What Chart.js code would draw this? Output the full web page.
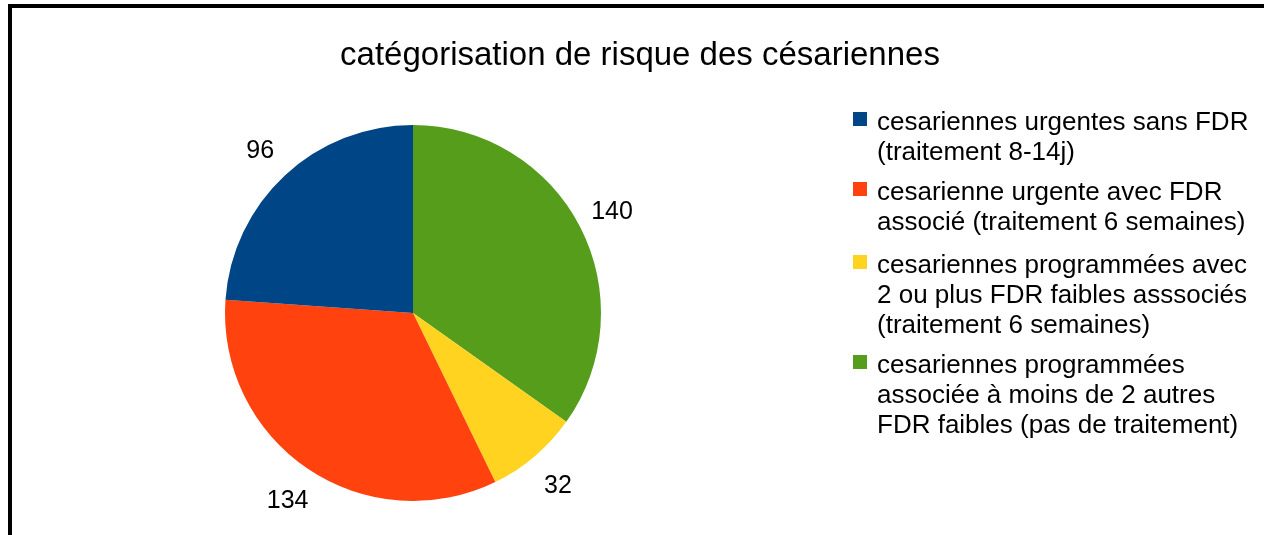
<!DOCTYPE html>
<html>
<head>
<meta charset="utf-8">
<script src="https://cdn.jsdelivr.net/npm/chart.js@4"></script>
<style>
    body { margin: 0; background: #fff; font-family: "Liberation Sans", Arial, sans-serif; }
    #wrap { position: relative; width: 1264px; height: 535px; overflow: hidden; }
    #frame { position: absolute; left: 8px; top: 4px; right: 0; bottom: 0; border-top: 4px solid #000; border-left: 4px solid #000; }
    #title { position: absolute; left: 0; width: 1280px; top: 38px; text-align: center; font-size: 33px; line-height: 32px; color: #000; }
    #legend { position: absolute; left: 853px; top: 106px; }
    .item { position: relative; padding-left: 24px; margin-bottom: 10px; font-size: 26px; line-height: 30px; white-space: pre-line; color: #000; }
    .box { position: absolute; left: 0; top: 6px; width: 14px; height: 14px; }
    canvas { position: absolute; left: 0; top: 0; }
</style>
</head>
<body>
<div id="wrap">
    <div id="frame"></div>
    <canvas id="pie" width="1264" height="535"></canvas>
    <div id="title">catégorisation de risque des césariennes</div>
    <div id="legend"></div>
</div>
<script>
// Data, in legend order
const categories = [
    'cesariennes urgentes sans FDR\n(traitement 8-14j)',
    'cesarienne urgente avec FDR\nassocié (traitement 6 semaines)',
    'cesariennes programmées avec\n2 ou plus FDR faibles asssociés\n(traitement 6 semaines)',
    'cesariennes programmées\nassociée à moins de 2 autres\nFDR faibles (pas de traitement)'
];
const counts = [96, 134, 32, 140];
const colors = ['#004586', '#ff420e', '#ffd320', '#579d1c'];

// Build the legend
const legend = document.getElementById('legend');
categories.forEach((label, i) => {
    const item = document.createElement('div');
    item.className = 'item';
    if (i == 2) item.style.marginTop = '13px';
    const box = document.createElement('span');
    box.className = 'box';
    box.style.background = colors[i];
    item.appendChild(box);
    item.appendChild(document.createTextNode(label));
    legend.appendChild(item);
});

// Values outside each slice
const outsideLabels = {
    id: 'outsideLabels',
    afterDatasetsDraw(chart) {
        const ctx = chart.ctx;
        const meta = chart.getDatasetMeta(0);
        ctx.save();
        ctx.font = '25px "Liberation Sans", Arial, sans-serif';
        ctx.fillStyle = '#000';
        ctx.textAlign = 'center';
        ctx.textBaseline = 'middle';
        meta.data.forEach((arc, i) => {
            const mid = (arc.startAngle + arc.endAngle) / 2;
            const r = arc.outerRadius + 36;
            ctx.fillText(chart.data.datasets[0].data[i], arc.x + Math.cos(mid) * r, arc.y + Math.sin(mid) * r + 2);
        });
        ctx.restore();
    }
};

// LibreOffice draws counter-clockwise, so feed the slices reversed
const ctx = document.getElementById('pie').getContext('2d');
new Chart(ctx, {
    type: 'pie',
    data: {
        labels: categories.slice().reverse(),
        datasets: [{
            data: counts.slice().reverse(),
            backgroundColor: colors.slice().reverse(),
            borderWidth: 0
        }]
    },
    options: {
        responsive: false,
        animation: false,
        layout: { padding: { left: 225, right: 663, top: 125, bottom: 34 } },
        plugins: {
            legend: { display: false },
            tooltip: { enabled: false }
        }
    },
    plugins: [outsideLabels]
});
</script>
</body>
</html>
